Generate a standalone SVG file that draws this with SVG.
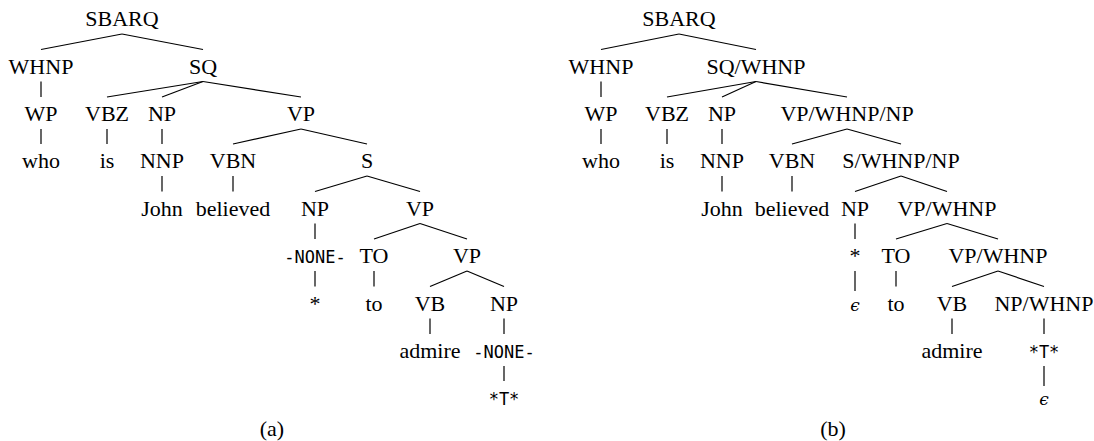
<svg xmlns="http://www.w3.org/2000/svg" width="1094" height="441" viewBox="0 0 1094 441">
<style>
.t{font-family:'Times New Roman','Liberation Serif',serif;font-size:22px;text-anchor:middle;fill:#000}
.m{font-family:'DejaVu Sans Mono',monospace;font-size:17px}
.e{font-family:'DejaVu Serif',serif;font-style:italic;font-size:17px}
#edges line{stroke:#000;stroke-width:1.2}
</style>
<rect width="1094" height="441" fill="#fff"/>
<g id="edges">
<line x1="122" y1="34" x2="41" y2="49.5"/>
<line x1="122" y1="34" x2="203" y2="49.5"/>
<line x1="41" y1="81.5" x2="41" y2="97"/>
<line x1="203" y1="81.5" x2="107" y2="97"/>
<line x1="203" y1="81.5" x2="162" y2="97"/>
<line x1="203" y1="81.5" x2="301" y2="97"/>
<line x1="41" y1="129" x2="41" y2="144"/>
<line x1="107" y1="129" x2="107" y2="144"/>
<line x1="162" y1="129" x2="162" y2="144"/>
<line x1="301" y1="129" x2="233" y2="144"/>
<line x1="301" y1="129" x2="367" y2="144"/>
<line x1="162" y1="176" x2="162" y2="191.5"/>
<line x1="233" y1="176" x2="233" y2="191.5"/>
<line x1="367" y1="176" x2="315" y2="191.5"/>
<line x1="367" y1="176" x2="420" y2="191.5"/>
<line x1="315" y1="223.5" x2="315" y2="239"/>
<line x1="420" y1="223.5" x2="374" y2="239"/>
<line x1="420" y1="223.5" x2="467" y2="239"/>
<line x1="315" y1="271" x2="315" y2="286.5"/>
<line x1="374" y1="271" x2="374" y2="286.5"/>
<line x1="467" y1="271" x2="430" y2="286.5"/>
<line x1="467" y1="271" x2="504" y2="286.5"/>
<line x1="430" y1="318.5" x2="430" y2="334"/>
<line x1="504" y1="318.5" x2="504" y2="334"/>
<line x1="504" y1="366" x2="504" y2="381"/>
<line x1="679" y1="34" x2="601" y2="49.5"/>
<line x1="679" y1="34" x2="756" y2="49.5"/>
<line x1="601" y1="81.5" x2="601" y2="97"/>
<line x1="756" y1="81.5" x2="667" y2="97"/>
<line x1="756" y1="81.5" x2="722" y2="97"/>
<line x1="756" y1="81.5" x2="847" y2="97"/>
<line x1="601" y1="129" x2="601" y2="144"/>
<line x1="667" y1="129" x2="667" y2="144"/>
<line x1="722" y1="129" x2="722" y2="144"/>
<line x1="847" y1="129" x2="792" y2="144"/>
<line x1="847" y1="129" x2="901" y2="144"/>
<line x1="722" y1="176" x2="722" y2="191.5"/>
<line x1="792" y1="176" x2="792" y2="191.5"/>
<line x1="901" y1="176" x2="855" y2="191.5"/>
<line x1="901" y1="176" x2="947" y2="191.5"/>
<line x1="855" y1="223.5" x2="855" y2="239"/>
<line x1="947" y1="223.5" x2="896" y2="239"/>
<line x1="947" y1="223.5" x2="998" y2="239"/>
<line x1="855" y1="271" x2="855" y2="291"/>
<line x1="896" y1="271" x2="896" y2="286.5"/>
<line x1="998" y1="271" x2="952" y2="286.5"/>
<line x1="998" y1="271" x2="1044" y2="286.5"/>
<line x1="952" y1="318.5" x2="952" y2="334"/>
<line x1="1044" y1="318.5" x2="1044" y2="334"/>
<line x1="1044" y1="366" x2="1044" y2="386"/>
</g>
<g id="tree-a" class="t">
<g id="a-sbarq"><text x="122" y="26">SBARQ</text></g>
<g id="a-whnp"><text x="41" y="73.5">WHNP</text></g>
<g id="a-sq"><text x="203" y="73.5">SQ</text></g>
<g id="a-wp"><text x="41" y="121">WP</text></g>
<g id="a-vbz"><text x="107" y="121">VBZ</text></g>
<g id="a-np1"><text x="162" y="121">NP</text></g>
<g id="a-vp1"><text x="301" y="121">VP</text></g>
<g id="a-who"><text x="41" y="168">who</text></g>
<g id="a-is"><text x="107" y="168">is</text></g>
<g id="a-nnp"><text x="162" y="168">NNP</text></g>
<g id="a-vbn"><text x="233" y="168">VBN</text></g>
<g id="a-s"><text x="367" y="168">S</text></g>
<g id="a-john"><text x="162" y="215.5">John</text></g>
<g id="a-believed"><text x="233" y="215.5">believed</text></g>
<g id="a-np2"><text x="315" y="215.5">NP</text></g>
<g id="a-vp2"><text x="420" y="215.5">VP</text></g>
<g id="a-none1"><text class="m" x="315" y="263">-NONE-</text></g>
<g id="a-to"><text x="374" y="263">TO</text></g>
<g id="a-vp3"><text x="467" y="263">VP</text></g>
<g id="a-star"><text x="315" y="310.5">*</text></g>
<g id="a-to-w"><text x="374" y="310.5">to</text></g>
<g id="a-vb"><text x="430" y="310.5">VB</text></g>
<g id="a-np3"><text x="504" y="310.5">NP</text></g>
<g id="a-admire"><text x="430" y="358">admire</text></g>
<g id="a-none2"><text class="m" x="504" y="358">-NONE-</text></g>
<g id="a-t"><text class="m" x="504" y="405">*T*</text></g>
<g id="a-label"><text x="272" y="436">(a)</text></g>
</g>
<g id="tree-b" class="t">
<g id="b-sbarq"><text x="679" y="26">SBARQ</text></g>
<g id="b-whnp"><text x="601" y="73.5">WHNP</text></g>
<g id="b-sq"><text x="756" y="73.5">SQ/WHNP</text></g>
<g id="b-wp"><text x="601" y="121">WP</text></g>
<g id="b-vbz"><text x="667" y="121">VBZ</text></g>
<g id="b-np1"><text x="722" y="121">NP</text></g>
<g id="b-vp1"><text x="847" y="121">VP/WHNP/NP</text></g>
<g id="b-who"><text x="601" y="168">who</text></g>
<g id="b-is"><text x="667" y="168">is</text></g>
<g id="b-nnp"><text x="722" y="168">NNP</text></g>
<g id="b-vbn"><text x="792" y="168">VBN</text></g>
<g id="b-s"><text x="901" y="168">S/WHNP/NP</text></g>
<g id="b-john"><text x="722" y="215.5">John</text></g>
<g id="b-believed"><text x="792" y="215.5">believed</text></g>
<g id="b-np2"><text x="855" y="215.5">NP</text></g>
<g id="b-vp2"><text x="947" y="215.5">VP/WHNP</text></g>
<g id="b-star"><text x="855" y="263">*</text></g>
<g id="b-to"><text x="896" y="263">TO</text></g>
<g id="b-vp3"><text x="998" y="263">VP/WHNP</text></g>
<g id="b-eps1"><text class="e" x="855" y="310.5">ϵ</text></g>
<g id="b-to-w"><text x="896" y="310.5">to</text></g>
<g id="b-vb"><text x="952" y="310.5">VB</text></g>
<g id="b-np3"><text x="1044" y="310.5">NP/WHNP</text></g>
<g id="b-admire"><text x="952" y="358">admire</text></g>
<g id="b-t"><text class="m" x="1044" y="358">*T*</text></g>
<g id="b-eps2"><text class="e" x="1044" y="405">ϵ</text></g>
<g id="b-label"><text x="833" y="436">(b)</text></g>
</g>
</svg>
